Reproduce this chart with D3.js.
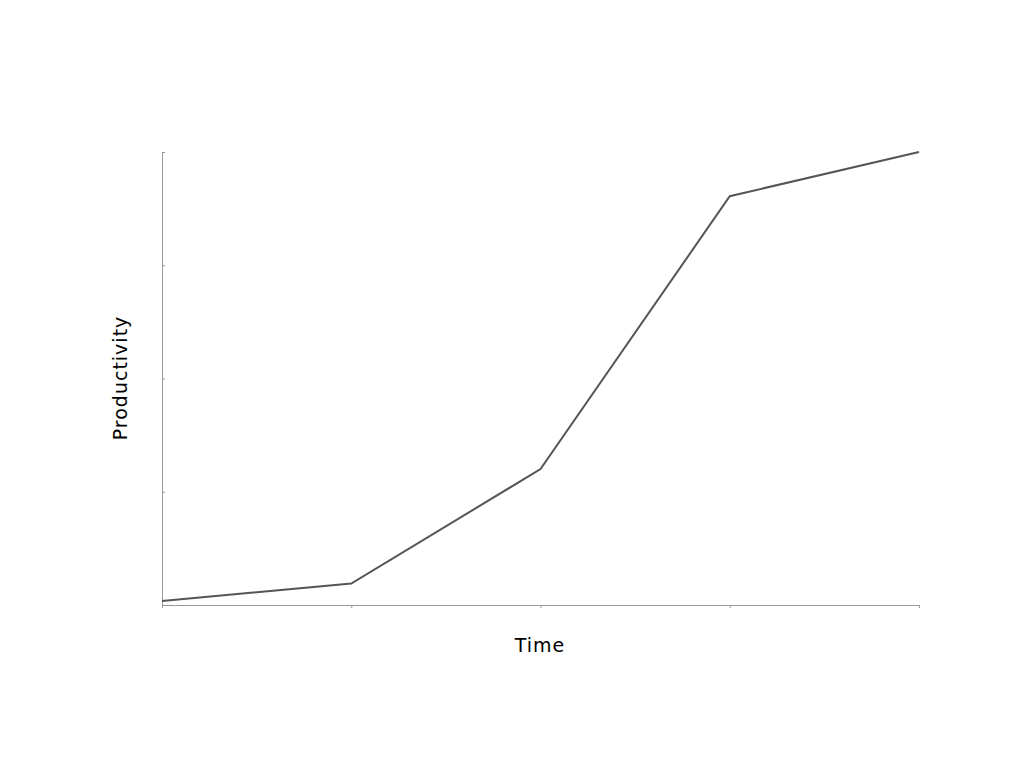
<!DOCTYPE html>
<html><head><meta charset="utf-8">
<script src="https://cdn.jsdelivr.net/npm/d3@7"></script>
<style>body{margin:0;background:#fff}text{font-family:"DejaVu Sans",sans-serif}</style>
</head><body><svg id="c" width="1024" height="768"></svg>
<script>
var timeSteps = [0, 1, 2, 3, 4];
var productivity = [0.035, 0.19, 1.2, 3.61, 4];
var yTicks = [0, 1, 2, 3, 4];

var svg = d3.select("#c");
var x = d3.scaleLinear().domain([0, 4]).range([162, 919]);
var y = d3.scaleLinear().domain([0, 4]).range([605, 152]);

var xa = svg.append("g").attr("transform", "translate(0,605)")
  .call(d3.axisBottom(x).tickValues(timeSteps).tickSize(3).tickSizeOuter(0).tickFormat(""));
var ya = svg.append("g").attr("transform", "translate(162,0)")
  .call(d3.axisLeft(y).tickValues(yTicks).tickSize(-3).tickSizeOuter(0).tickFormat(""));
svg.selectAll(".domain, .tick line").attr("stroke", "#999");

svg.append("path").datum(timeSteps)
  .attr("fill", "none").attr("stroke", "#555").attr("stroke-width", 2)
  .attr("d", d3.line().x(function (d) { return x(d); }).y(function (d, i) { return y(productivity[i]); }));

svg.append("text").attr("x", 540).attr("y", 652).attr("text-anchor", "middle")
  .attr("font-size", 19).attr("letter-spacing", 1).text("Time");
svg.append("text").attr("transform", "translate(127,378) rotate(-90)").attr("text-anchor", "middle")
  .attr("font-size", 19).attr("letter-spacing", 1).text("Productivity");
</script></body></html>
